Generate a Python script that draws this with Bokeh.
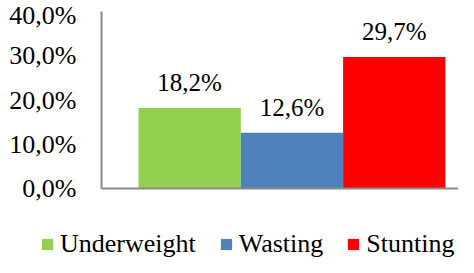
from bokeh.plotting import figure
from bokeh.models import ColumnDataSource, Range1d, FixedTicker, LabelSet, Legend, LegendItem
from bokeh.embed import file_html
from bokeh.resources import INLINE

categories = ["Underweight", "Wasting", "Stunting"]
values = [18.2, 12.6, 29.7]
value_labels = ["18,2%", "12,6%", "29,7%"]
colors = ["#92D050", "#4F81BD", "#FF0000"]
y_ticks = [0, 10, 20, 30, 40]
y_tick_labels = ["0,0%", "10,0%", "20,0%", "30,0%", "40,0%"]

FONT = "'Liberation Serif', 'Times New Roman', 'DejaVu Serif', serif"
FS = "26px"
FS_BAR = "25px"
AXIS_COLOR = "#8a8a8a"

# screen layout (figure pixels)
W, H = 458, 257
Y0_PX, Y40_PX = 188, 11          # pixel rows of 0% and 40%
BAR_PX = 102.3                   # width of one bar in pixels
AXIS_X_PX = 101                  # y-axis line position
FIRST_BAR_LEFT_PX = 138

ppu_y = (Y0_PX - Y40_PX) / 40.0
y_start = -(H - Y0_PX) / ppu_y
y_end = 40 + Y40_PX / ppu_y
x_start = 0.5 - FIRST_BAR_LEFT_PX / BAR_PX
x_end = x_start + W / BAR_PX
x_axis_pos = x_start + AXIS_X_PX / BAR_PX

xs = list(range(1, len(categories) + 1))
source = ColumnDataSource(dict(x=xs, top=values, label=value_labels))

p = figure(width=W, height=H, output_backend="svg", toolbar_location=None,
           x_range=Range1d(x_start, x_end), y_range=Range1d(y_start, y_end),
           min_border_left=0, min_border_right=0, min_border_top=0,
           min_border_bottom=0)
p.outline_line_color = None
p.xgrid.visible = False
p.ygrid.visible = False
p.background_fill_color = "white"
p.border_fill_color = "white"

renderers = []
for i in range(len(categories)):
    sub = ColumnDataSource(dict(x=[xs[i]], top=[values[i]]))
    r = p.vbar(x="x", top="top", bottom=0, width=1.0, source=sub,
               fill_color=colors[i], line_color=None)
    renderers.append(r)

labels = LabelSet(x="x", y="top", text="label", source=source,
                  text_align="center", text_baseline="alphabetic", y_offset=17,
                  text_font=FONT, text_font_size=FS_BAR, text_color="black")
p.add_layout(labels)

# y axis
yax = p.yaxis[0]
yax.fixed_location = x_axis_pos
yax.bounds = (0, 40)
yax.ticker = FixedTicker(ticks=y_ticks)
yax.major_label_overrides = {t: l for t, l in zip(y_ticks, y_tick_labels)}
yax.major_label_text_font = FONT
yax.major_label_text_font_size = FS
yax.major_label_text_color = "black"
yax.major_tick_line_color = None
yax.minor_tick_line_color = None
yax.major_tick_out = 0
yax.major_tick_in = 0
yax.major_label_standoff = 25
yax.axis_line_color = AXIS_COLOR
yax.axis_line_width = 2

# x axis: line only
xax = p.xaxis[0]
xax.fixed_location = 0
xax.bounds = (x_axis_pos, x_end)
xax.ticker = FixedTicker(ticks=[])
xax.major_label_text_font_size = "0px"
xax.major_tick_line_color = None
xax.minor_tick_line_color = None
xax.major_tick_out = 0
xax.major_tick_in = 0
xax.axis_line_color = AXIS_COLOR
xax.axis_line_width = 2

legend = Legend(items=[LegendItem(label=categories[i], renderers=[renderers[i]])
                       for i in range(len(categories))],
                orientation="horizontal", location=(40, -2),
                glyph_width=14, glyph_height=14, label_standoff=6, spacing=23,
                padding=0, margin=0, border_line_color=None,
                background_fill_alpha=0,
                label_text_font=FONT, label_text_font_size=FS,
                label_text_color="black")
p.add_layout(legend, "center")

open("out.html", "w").write(file_html(p, INLINE))
